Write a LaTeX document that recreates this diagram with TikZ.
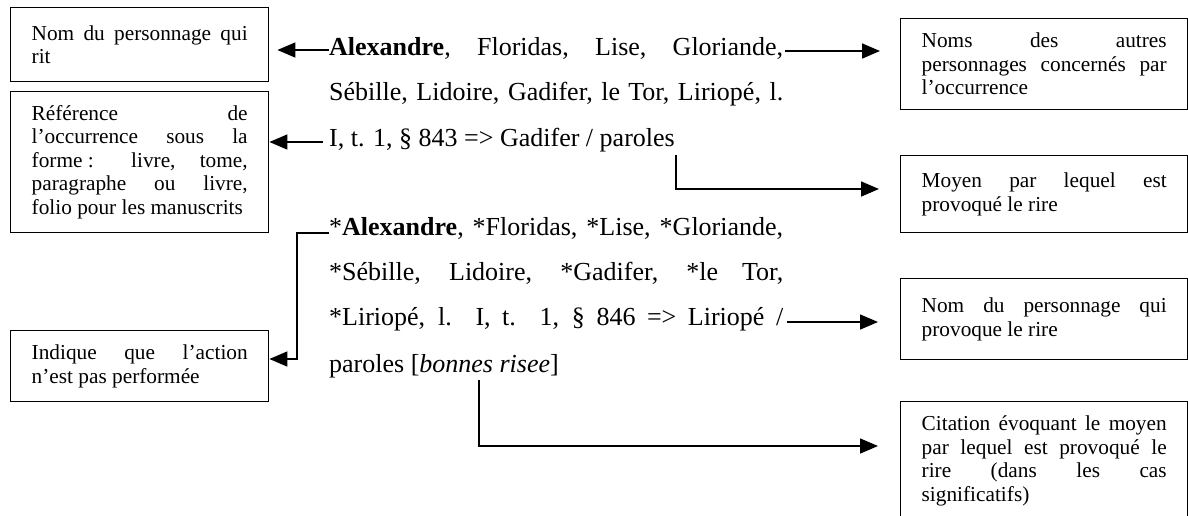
\documentclass[tikz,border=0pt]{standalone}
\usepackage{fontspec}
\setmainfont{Liberation Serif}
\usetikzlibrary{arrows.meta}
\newcommand\jj[1]{\hbox to\hsize{#1}}
\newcommand\jr[1]{\hbox to\hsize{#1\hfil}}
\begin{document}
\begin{tikzpicture}[x=1pt,y=-1pt,
  box/.style={draw, line width=1.4pt, inner xsep=21pt, inner ysep=0pt, anchor=north west,
    font=\fontsize{21.3pt}{23.5pt}\selectfont},
  arr/.style={line width=1.6pt, -{Triangle[length=18pt,width=15pt]}},
  mt/.style={anchor=base west, inner sep=0pt, font=\fontsize{26pt}{30pt}\selectfont}]
\fill[white] (0,0) rectangle (1188,515);
\clip (0,0) rectangle (1188,515);

% left boxes
\node[box, minimum height=74pt] (boxA) at (10,7)
  {\vbox{\hsize=216pt \jj{Nom du personnage qui}\jr{rit}}};
\node[box, minimum height=141pt] (boxB) at (10,91)
  {\vbox{\hsize=216pt \jj{Référence de}\jj{l’occurrence sous la}\jj{forme\hspace{0.25em}: livre, tome,}\jj{paragraphe ou livre,}\jr{folio pour les manuscrits}}};
\node[box, minimum height=71pt] (boxC) at (10,330)
  {\vbox{\hsize=216pt \jj{Indique que l’action}\jr{n’est pas performée}}};

% right boxes
\node[box, minimum height=91pt] (boxD) at (900,18)
  {\vbox{\hsize=245pt \jj{Noms des autres}\jj{personnages concernés par}\jr{l’occurrence}}};
\node[box, minimum height=77pt] (boxE) at (900,155)
  {\vbox{\hsize=245pt \jj{Moyen par lequel est}\jr{provoqué le rire}}};
\node[box, minimum height=81pt] (boxF) at (900,278)
  {\vbox{\hsize=245pt \jj{Nom du personnage qui}\jr{provoque le rire}}};
\node[box, inner ysep=14pt] (boxG) at (900,401)
  {\vbox{\hsize=245pt \jj{Citation évoquant le moyen}\jj{par lequel est provoqué le}\jj{rire (dans les cas}\jr{significatifs)}\vskip 60pt}};

% central text
\node[mt] (p1a) at (329,55) {\hbox to 454pt{\textbf{Alexandre}, Floridas, Lise, Gloriande,}};
\node[mt] (p1b) at (329,100) {\hbox to 454pt{Sébille, Lidoire, Gadifer, le Tor, Liriopé, l.}};
\node[mt] (p1c) at (329,146) {I, t. 1, § 843 => Gadifer / paroles};
\node[mt] (p2a) at (329,235) {\hbox to 454pt{*\textbf{Alexandre}, *Floridas, *Lise, *Gloriande,}};
\node[mt] (p2b) at (329,280) {\hbox to 454pt{*Sébille, Lidoire, *Gadifer, *le Tor,}};
\node[mt] (p2c) at (329,325) {\hbox to 454pt{*Liriopé, l. I, t. 1, § 846 => Liriopé /}};
\node[mt] (p2d) at (329,372) {paroles [\textit{bonnes risee}]};

% connectors
\draw[arr] (p1a.west |- 0,50) -- ([xshift=8pt]boxA.east |- 0,50);
\draw[arr] ([xshift=-6pt]p1c.west |- 0,142) -- (boxB.east |- 0,142);
\draw[arr] ([xshift=2pt]p1a.east |- 0,51) -- ([xshift=-20pt]boxD.west |- 0,51);
\draw[arr] (676,155) |- ([xshift=-21pt]boxE.west |- 0,189);
\draw[arr] (p2a.west |- 0,233) -- ([xshift=-32pt]p2a.west |- 0,233) |- (boxC.east |- 0,359);
\draw[arr] ([xshift=4pt]p2c.east |- 0,322) -- ([xshift=-22pt]boxF.west |- 0,322);
\draw[arr] (479,380) |- ([xshift=-22pt]boxG.west |- 0,446);
\end{tikzpicture}
\end{document}
